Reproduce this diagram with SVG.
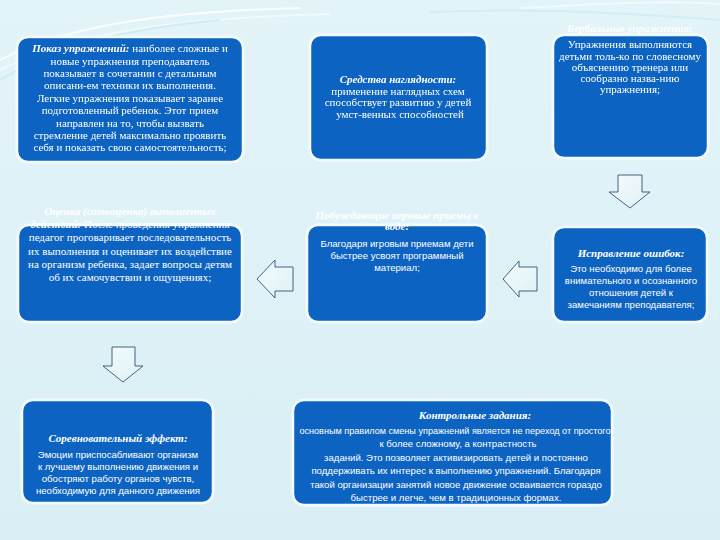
<svg xmlns="http://www.w3.org/2000/svg" width="720" height="540" viewBox="0 0 720 540">
<defs>
<linearGradient id="bg" x1="0" y1="0" x2="0" y2="1">
<stop offset="0" stop-color="#e3f4f8"/>
<stop offset="1" stop-color="#d9eff5"/>
</linearGradient>
<linearGradient id="arr" x1="0" y1="0" x2="1" y2="1">
<stop offset="0" stop-color="#f4fbfd"/>
<stop offset="1" stop-color="#dff1f6"/>
</linearGradient>
<filter id="glow" x="-10%" y="-10%" width="120%" height="120%">
<feGaussianBlur in="SourceAlpha" stdDeviation="2"/>
<feFlood flood-color="#ffffff"/>
<feComposite operator="in" in2="SourceAlpha"/>
<feMerge><feMergeNode/><feMergeNode in="SourceGraphic"/></feMerge>
</filter>
</defs>
<style>
.box{fill:#0d64c2;stroke:#f2fafc;stroke-width:2.5}
.t{fill:#ffffff;font-family:"Liberation Serif","DejaVu Serif",serif;font-size:11px;text-anchor:middle}
.s{fill:#ffffff;font-family:"Liberation Sans","DejaVu Sans",sans-serif;font-size:9.6px;text-anchor:middle}
.b{font-weight:bold;font-style:italic}
.arrow{fill:url(#arr);stroke:#34506e;stroke-width:0.9}
</style>
<rect width="720" height="540" fill="url(#bg)"/>
<g id="decor" fill="none" stroke="#ffffff" stroke-width="2" opacity="0.8">
<path d="M0 60 C60 30 140 12 300 8"/>
<path d="M0 70 C70 36 160 18 330 14" opacity="0.6"/>
<path d="M0 80 C50 50 110 30 220 20" stroke="#bfe6ef" opacity="0.7"/>
<path d="M520 8 C600 4 660 0 720 4" opacity="0.6"/>
<path d="M430 12 C520 8 620 12 720 20" stroke="#bfe6ef" opacity="0.6"/>
</g>
<g id="connectors">
<path class="arrow" d="M618 175 H642 V192 H650 L630 208 L609 192 H618 Z"/>
<path class="arrow" d="M112 347 H135 V366 H143 L123 382 L103 366 H112 Z"/>
<path class="arrow" d="M293 267 V291 H275 V298 L257 279 L275 260 V267 Z"/>
<path class="arrow" d="M537 267 V291 H519 V297 L503 279 L519 261 V267 Z"/>
</g>
<g id="n1">
<rect class="box" x="17" y="37" width="226" height="125" rx="11" filter="url(#glow)"/>
<text class="t" x="130" y="52"><tspan class="b">Показ упражнений:</tspan> наиболее сложные и</text>
<text class="t" x="130" y="65">новые упражнения преподаватель</text>
<text class="t" x="130" y="77">показывает в сочетании с детальным</text>
<text class="t" x="130" y="89">описани-ем техники их выполнения.</text>
<text class="t" x="130" y="102">Легкие упражнения показывает заранее</text>
<text class="t" x="130" y="114">подготовленный ребенок. Этот прием</text>
<text class="t" x="130" y="127">направлен на то, чтобы вызвать</text>
<text class="t" x="130" y="139">стремление детей максимально проявить</text>
<text class="t" x="130" y="151">себя и показать свою самостоятельность;</text>
</g>
<g id="n2">
<rect class="box" x="310" y="35" width="177" height="125" rx="11" filter="url(#glow)"/>
<text class="t b" x="398" y="83">Средства наглядности:</text>
<text class="t" x="398" y="95">применение наглядных схем</text>
<text class="t" x="398" y="106">способствует развитию у детей</text>
<text class="t" x="400" y="118">умст-венных способностей</text>
</g>
<g id="n3">
<text class="t b" x="630" y="32" opacity="0.9">Вербальные упражнения:</text>
<rect class="box" x="553" y="35" width="155" height="123" rx="11" filter="url(#glow)"/>
<text class="t" x="630" y="48">Упражнения выполняются</text>
<text class="t" x="630" y="60">детьми толь-ко по словесному</text>
<text class="t" x="630" y="71">объяснению тренера или</text>
<text class="t" x="630" y="82">сообразно назва-нию</text>
<text class="t" x="630" y="93">упражнения;</text>
</g>
<g id="n4">
<rect class="box" x="18" y="225" width="224" height="97" rx="11" filter="url(#glow)"/>
<text class="t b" x="130" y="215">Оценка (самооценка) выполненных</text>
<text class="t" x="130" y="228"><tspan class="b">действий:</tspan> После проведения упражнения</text>
<text class="t" x="130" y="241">педагог проговаривает последовательность</text>
<text class="t" x="130" y="255">их выполнения и оценивает их воздействие</text>
<text class="t" x="130" y="268">на организм ребенка, задает вопросы детям</text>
<text class="t" x="130" y="281">об их самочувствии и ощущениях;</text>
</g>
<g id="n5">
<rect class="box" x="307" y="225" width="180" height="97" rx="11" filter="url(#glow)"/>
<text class="t b" x="397" y="219">Побуждающие игровые приемы в</text>
<text class="t b" x="397" y="230">воде:</text>
<text class="s" x="397" y="247">Благодаря игровым приемам дети</text>
<text class="s" x="397" y="259">быстрее усвоят программный</text>
<text class="s" x="397" y="271">материал;</text>
</g>
<g id="n6">
<rect class="box" x="553" y="227" width="154" height="95" rx="11" filter="url(#glow)"/>
<text class="t b" x="631" y="257">Исправление ошибок:</text>
<text class="s" x="631" y="272">Это необходимо для более</text>
<text class="s" x="631" y="284">внимательного и осознанного</text>
<text class="s" x="631" y="296">отношения детей к</text>
<text class="s" x="631" y="308">замечаниям преподавателя;</text>
</g>
<g id="n7">
<rect class="box" x="22" y="400" width="191" height="103" rx="11" filter="url(#glow)"/>
<text class="t b" x="118" y="442">Соревновательный эффект:</text>
<text class="s" x="118" y="458">Эмоции приспосабливают организм</text>
<text class="s" x="118" y="470">к лучшему выполнению движения и</text>
<text class="s" x="118" y="482">обостряют работу органов чувств,</text>
<text class="s" x="118" y="494">необходимую для данного движения</text>
</g>
<g id="n8">
<rect class="box" x="293" y="400" width="319" height="105" rx="11" filter="url(#glow)"/>
<text class="t b" x="475" y="419">Контрольные задания:</text>
<text class="s" x="455" y="434" style="font-size:9.1px">основным правилом смены упражнений является не переход от простого</text>
<text class="s" x="458" y="447">к более сложному, а контрастность</text>
<text class="s" x="456" y="461">заданий. Это позволяет активизировать детей и постоянно</text>
<text class="s" x="456" y="474">поддерживать их интерес к выполнению упражнений. Благодаря</text>
<text class="s" x="456" y="488">такой организации занятий новое движение осваивается гораздо</text>
<text class="s" x="456" y="501">быстрее и легче, чем в традиционных формах.</text>
</g>
</svg>
